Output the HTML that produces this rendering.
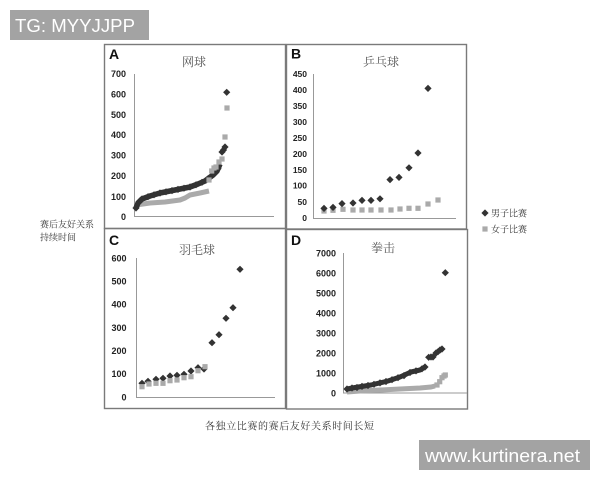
<!DOCTYPE html>
<html><head><meta charset="utf-8"><style>
html,body{margin:0;padding:0;background:#fff;}
svg{display:block;}
.t{font-family:"Liberation Sans",Arial,sans-serif;font-weight:bold;font-size:9px;fill:#222;text-anchor:end;}
.L{font-family:"Liberation Sans",Arial,sans-serif;font-weight:bold;font-size:14px;fill:#111;}
.cj{font-family:"Liberation Serif","Noto Serif CJK SC","Noto Sans CJK SC",serif;fill:#333;}
</style></head><body>
<svg width="600" height="480" viewBox="0 0 600 480" xmlns="http://www.w3.org/2000/svg">
<defs>
<polygon id="d" points="0,-3.6 3.6,0 0,3.6 -3.6,0" fill="#333"/>
<rect id="s" x="-2.6" y="-2.6" width="5.2" height="5.2" fill="#aaa"/>
</defs>
<rect width="600" height="480" fill="#fff"/>

<!-- watermark top-left -->
<rect x="10" y="10" width="139" height="30" fill="#a3a3a3"/>
<text x="15" y="32" font-family="Liberation Sans,Arial,sans-serif" font-size="18" fill="#fff" textLength="120" lengthAdjust="spacingAndGlyphs">TG: MYYJJPP</text>

<!-- panel boxes -->
<g fill="none" stroke="#7a7a7a" stroke-width="1.4">
<rect x="104.5" y="44.5" width="181" height="184"/>
<rect x="286.5" y="44.5" width="180" height="184.5"/>
<rect x="104.5" y="228.5" width="181" height="180"/>
<rect x="286.5" y="229.5" width="181" height="179.5"/>
</g>

<!-- Panel A -->
<text class="L" x="109" y="59">A</text>
<text class="cj" x="194" y="66" font-size="12" text-anchor="middle" style="fill:#555">网球</text>
<g class="t">
<text x="126" y="77">700</text><text x="126" y="97.5">600</text><text x="126" y="118">500</text>
<text x="126" y="138">400</text><text x="126" y="158.5">300</text><text x="126" y="179">200</text>
<text x="126" y="200">100</text><text x="126" y="220">0</text>
</g>
<g stroke="#999" stroke-width="1"><line x1="134.5" y1="74" x2="134.5" y2="216.5"/><line x1="134" y1="216.5" x2="274" y2="216.5"/></g>
<polyline fill="none" stroke="#aaa" stroke-width="5" stroke-linejoin="round" points="136,205 150,203 165,202 180,200 185,198 190,195 200,193 209,191"/>
<polyline fill="none" stroke="#333" stroke-width="5.5" stroke-linejoin="round" points="136,208 138,203 142,199 150,196 160,193 170,191 180,189 190,187 198,184 205,181 209,178 213,175 217,171 220,164"/>
<use href="#d" x="136" y="208"/><use href="#d" x="142" y="199"/><use href="#d" x="148" y="196.7"/><use href="#d" x="154" y="194.8"/><use href="#d" x="160" y="193"/><use href="#d" x="166" y="191.8"/><use href="#d" x="172" y="190.6"/><use href="#d" x="178" y="189.4"/><use href="#d" x="184" y="188.2"/><use href="#d" x="190" y="187"/><use href="#d" x="196" y="184.8"/><use href="#d" x="202" y="182.3"/><use href="#d" x="208" y="178.8"/><use href="#d" x="214" y="174"/><use href="#d" x="218" y="168.7"/>
<use href="#s" x="209" y="180"/><use href="#s" x="211.7" y="171"/><use href="#s" x="214" y="168"/><use href="#s" x="216" y="167"/><use href="#s" x="219" y="162"/><use href="#s" x="222" y="159"/><use href="#s" x="225" y="137"/><use href="#s" x="227" y="108"/>
<use href="#d" x="222" y="152"/><use href="#d" x="223.5" y="150"/><use href="#d" x="225" y="147"/><use href="#d" x="226.7" y="92.3"/>

<!-- Panel B -->
<text class="L" x="291" y="58.5">B</text>
<text class="cj" x="381" y="66" font-size="12" text-anchor="middle" style="fill:#555">乒乓球</text>
<g class="t" style="font-size:8.5px">
<text x="307" y="77">450</text><text x="307" y="93">400</text><text x="307" y="109">350</text>
<text x="307" y="125">300</text><text x="307" y="141">250</text><text x="307" y="157">200</text>
<text x="307" y="173">150</text><text x="307" y="188.5">100</text><text x="307" y="205">50</text><text x="307" y="221">0</text>
</g>
<g stroke="#999" stroke-width="1"><line x1="313.5" y1="74" x2="313.5" y2="218.5"/><line x1="313" y1="218.5" x2="456" y2="218.5"/></g>
<use href="#s" x="324" y="211"/><use href="#s" x="333" y="210.3"/><use href="#s" x="343" y="209.3"/><use href="#s" x="353" y="210"/><use href="#s" x="362" y="210"/><use href="#s" x="371" y="210"/><use href="#s" x="381" y="210"/><use href="#s" x="391" y="210"/><use href="#s" x="400" y="209"/><use href="#s" x="409" y="208.3"/><use href="#s" x="418" y="208.3"/><use href="#s" x="428" y="204"/><use href="#s" x="438" y="200"/>
<use href="#d" x="324" y="208.4"/><use href="#d" x="333" y="207.4"/><use href="#d" x="342" y="203.6"/><use href="#d" x="353" y="203"/><use href="#d" x="362" y="200.4"/><use href="#d" x="371" y="200.4"/><use href="#d" x="380" y="198.8"/><use href="#d" x="390" y="179.6"/><use href="#d" x="399" y="177.4"/><use href="#d" x="409" y="167.8"/><use href="#d" x="418" y="153"/><use href="#d" x="428" y="88.4"/>

<!-- Legend -->
<use href="#d" x="485" y="213"/>
<text class="cj" x="491" y="216.5" font-size="9">男子比赛</text>
<use href="#s" x="485" y="229"/>
<text class="cj" x="491" y="232.5" font-size="9">女子比赛</text>

<!-- y label -->
<text class="cj" x="40" y="227.5" font-size="9">赛后友好关系</text>
<text class="cj" x="40" y="240.5" font-size="9">持续时间</text>

<!-- Panel C -->
<text class="L" x="109" y="245">C</text>
<text class="cj" x="197" y="254" font-size="12" text-anchor="middle" style="fill:#555">羽毛球</text>
<g class="t">
<text x="126.5" y="261.3">600</text><text x="126.5" y="284.5">500</text><text x="126.5" y="307.6">400</text>
<text x="126.5" y="330.8">300</text><text x="126.5" y="354">200</text><text x="126.5" y="377.1">100</text><text x="126.5" y="400.3">0</text>
</g>
<g stroke="#999" stroke-width="1"><line x1="136.5" y1="258" x2="136.5" y2="397.5"/><line x1="136" y1="397.5" x2="275" y2="397.5"/></g>
<use href="#d" x="142" y="383.3"/><use href="#d" x="148" y="381.3"/><use href="#d" x="156" y="379.3"/><use href="#d" x="163" y="378.3"/><use href="#d" x="170" y="376"/><use href="#d" x="177" y="375.3"/><use href="#d" x="184" y="374.3"/><use href="#d" x="191" y="371"/><use href="#d" x="198" y="367.7"/><use href="#d" x="204" y="369"/><use href="#d" x="212" y="342.7"/><use href="#d" x="219" y="334.7"/><use href="#d" x="226" y="318.3"/><use href="#d" x="233" y="307.7"/><use href="#d" x="240" y="269.3"/>
<use href="#s" x="142" y="386.7"/><use href="#s" x="149" y="384"/><use href="#s" x="156" y="383.3"/><use href="#s" x="163" y="383.3"/><use href="#s" x="170" y="380.7"/><use href="#s" x="177" y="380"/><use href="#s" x="184" y="377.7"/><use href="#s" x="191" y="376.7"/><use href="#s" x="198" y="370.7"/><use href="#s" x="205" y="366.7"/>

<!-- Panel D -->
<text class="L" x="291" y="245">D</text>
<text class="cj" x="383" y="252" font-size="12" text-anchor="middle" style="fill:#555">拳击</text>
<g class="t">
<text x="336" y="256.3">7000</text><text x="336" y="276.3">6000</text><text x="336" y="296.3">5000</text>
<text x="336" y="316.3">4000</text><text x="336" y="336.3">3000</text><text x="336" y="356.3">2000</text>
<text x="336" y="376.3">1000</text><text x="336" y="396.3">0</text>
</g>
<g stroke="#999" stroke-width="1"><line x1="343.5" y1="253" x2="343.5" y2="393"/><line x1="343" y1="393" x2="467" y2="393"/></g>
<polyline fill="none" stroke="#aaa" stroke-width="5" stroke-linejoin="round" points="347,392 360,391 380,390 400,389 420,388 431,387 435,386"/>
<polyline fill="none" stroke="#333" stroke-width="5" stroke-linejoin="round" points="347,389 355,387.5 371,385 388,381 400,377 411,372 420,370 425,367"/>
<use href="#d" x="347" y="389"/><use href="#d" x="352" y="388"/><use href="#d" x="357" y="387.5"/><use href="#d" x="362" y="386.4"/><use href="#d" x="368" y="385.5"/><use href="#d" x="374" y="384.3"/><use href="#d" x="380" y="382.9"/><use href="#d" x="386" y="381.5"/><use href="#d" x="392" y="379.7"/><use href="#d" x="398" y="377.7"/><use href="#d" x="404" y="375.6"/><use href="#d" x="410" y="372.5"/><use href="#d" x="416" y="370.9"/><use href="#d" x="422" y="368.8"/><use href="#d" x="425" y="367"/>
<use href="#d" x="428.7" y="357.3"/><use href="#d" x="431" y="357"/><use href="#d" x="433" y="357"/><use href="#d" x="436" y="353"/><use href="#d" x="438" y="351.7"/><use href="#d" x="440" y="350"/><use href="#d" x="442" y="349"/><use href="#d" x="445.3" y="272.7"/>
<use href="#s" x="437" y="385"/><use href="#s" x="439.7" y="381.7"/><use href="#s" x="442" y="377.7"/><use href="#s" x="444" y="376"/><use href="#s" x="445.3" y="375"/>

<!-- x label -->
<text class="cj" x="205" y="429.5" font-size="10" letter-spacing="0.6">各独立比赛的赛后友好关系时间长短</text>

<!-- watermark bottom-right -->
<rect x="419" y="440" width="171" height="30" fill="#a3a3a3"/>
<text x="425" y="462" font-family="Liberation Sans,Arial,sans-serif" font-size="18.5" fill="#fff" textLength="155" lengthAdjust="spacingAndGlyphs">www.kurtinera.net</text>
</svg>
</body></html>
